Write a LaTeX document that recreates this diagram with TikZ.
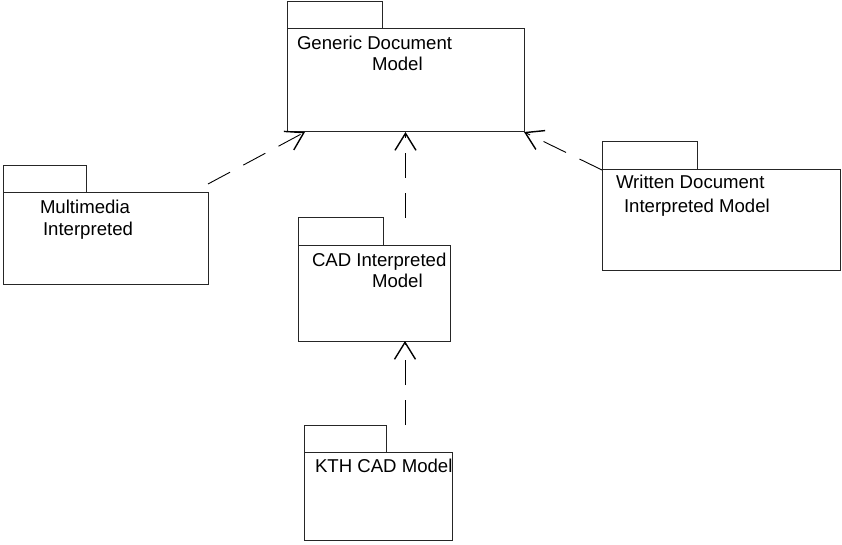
\documentclass[tikz,border=0pt]{standalone}
\usepackage{fontspec}
\setmainfont{Liberation Sans}
\usetikzlibrary{arrows.meta,calc}

\tikzset{
  pkgtab/.style={draw=black!85, line width=1pt, inner sep=0pt, outer sep=0pt, anchor=south west},
  pkgbody/.style={draw=black!85, line width=1pt, inner sep=0pt, outer sep=0pt, anchor=north west},
  label/.style={anchor=base west, inner sep=0pt, outer sep=0pt, font=\fontsize{18.6}{21}\selectfont},
  dep/.style={draw=black, line width=0.9pt, dash pattern=on 25pt off 15pt,
    -{Straight Barb[length=17pt, width=21pt, line width=1.4pt]}},
}

\begin{document}
\begin{tikzpicture}[x=1pt, y=-1pt]
\useasboundingbox (0,0) rectangle (842,545);

% Generic Document Model
\node[pkgbody, minimum width=237pt, minimum height=103pt] (gen) at (287,29) {};
\node[pkgtab, minimum width=95pt, minimum height=27pt] (gentab) at (gen.north west) {};
\node[label] (genl1) at (297,50) {Generic Document};
\node[label] (genl2) at (372,71) {Model};

% Multimedia Interpreted
\node[pkgbody, minimum width=205pt, minimum height=91pt] (mm) at (3,193) {};
\node[pkgtab, minimum width=83pt, minimum height=27pt] (mmtab) at (mm.north west) {};
\node[label] (mml1) at (40,214) {Multimedia};
\node[label] (mml2) at (43,235) {Interpreted};

% Written Document Interpreted Model
\node[pkgbody, minimum width=238pt, minimum height=100pt] (wr) at (602,170) {};
\node[pkgtab, minimum width=95pt, minimum height=28pt] (wrtab) at (wr.north west) {};
\node[label] (wrl1) at (616,189) {Written Document};
\node[label] (wrl2) at (624,212) {Interpreted Model};

% CAD Interpreted Model
\node[pkgbody, minimum width=152pt, minimum height=96pt] (cad) at (298,245) {};
\node[pkgtab, minimum width=85pt, minimum height=27pt] (cadtab) at (cad.north west) {};
\node[label] (cadl1) at (312,266) {CAD Interpreted};
\node[label] (cadl2) at (372,287) {Model};

% KTH CAD Model
\node[pkgbody, minimum width=148pt, minimum height=88pt] (kth) at (304,452) {};
\node[pkgtab, minimum width=82pt, minimum height=27pt] (kthtab) at (kth.north west) {};
\node[label] (kthl1) at (315,472) {KTH CAD Model};

% dependencies
\draw[dep] ([yshift=9pt]mm.north east) -- ([xshift=18pt]gen.south west);
\draw[dep] (gen.south |- cadtab.north) -- (gen.south);
\draw[dep] (wr.north west) -- (gen.south east);
\draw[dep] ([xshift=31pt]cad.south |- kthtab.north) -- ([xshift=31pt]cad.south);
\end{tikzpicture}
\end{document}
